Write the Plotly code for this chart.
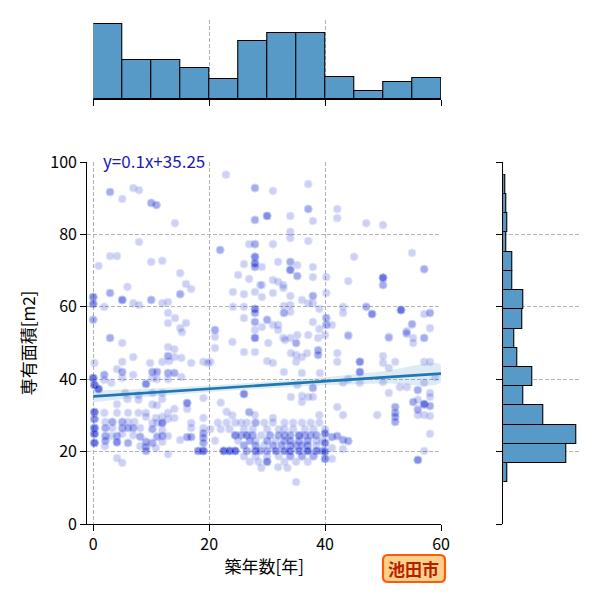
import numpy as np
import plotly.graph_objects as go

# ---------------- data ----------------
# scatter points: age [years], area [m2], number of overlapping listings
pt_age = [
 22.9,2.9,6.9,7.9,5,10,10.9,14.1,7.9,2.9,4.1,0.9,10,11.9,15,16,16.9,15,5.9,2.9,0,0,0,1.9,5,6.9,7.9,10,11.9,12.9,12.9,12.9,14.1,16,15,2.9,21,21,21.9,
 27.9,27.9,26.9,27.9,27.9,27.9,27.9,26,25,26.9,28.8,24.1,26,27.9,27.9,27.9,27.9,26,24.1,26,27.9,
 31,37.1,30,34,37.1,37.9,42.1,42.1,47.1,50,34,34,37.1,31,29.1,31.9,34,34,35.2,35.2,37.9,37.9,40.2,31,31.9,29.1,32.8,32.8,31,29.1,34,37.9,37.9,40.2,36,37.1,
 32.9,32.9,34,34,39,40.2,40.2,41.2,37.9,39,30,31,31.9,31.9,29.1,35.2,37.1,34,32.8,40,44,45,55,57.1,50,50,44,47.1,48.1,43.1,43.1,53.1,55,57.1,58.1,58.1,54.1,54.1,51,57.1,
 5,15.3,12.9,14,12.9,14,15.2,6.9,0.2,5,9.8,11.9,13.1,16.9,19,20.2,4.1,5,5,1.9,1.9,0,3.1,6.9,10.2,11,10.2,11,12.9,14,12.9,15.2,9.1,0.2,0.9,5.5,7.8,10.2,11.9,7.8,11.9,19,4.1,5.9,16.2,10.2,11,14,16.2,12.9,14,9.1,
 0.2,0.2,0.2,0.2,0.2,1.9,4.1,6,7.8,2.1,3.3,5,6,7.1,2.1,3.3,5,6,2.1,3.1,4.1,5,2.1,4.1,6,6.9,8.1,6.9,8.1,9.1,10.2,11,10.2,11.9,10.8,11.9,12.9,11.9,11,11.9,12.9,10.2,11.9,9.1,9.1,9.1,8.1,10.8,15,16.2,16.9,16.9,19,16.9,19,19,19,19,19,18.1,20.2,4.1,5,12.9,2,
 21,27.9,24,26,27.9,30.2,33.1,35,38.8,38.8,38.8,35,35,36,34.1,36.9,30,31,32.9,36,39.1,19.8,26,35.2,37.9,34.1,36,37.1,37.9,36,39,26.9,27.9,31,23,24,22,
 21.5,23,24.5,25.5,26.5,28,29.5,31,33,34.5,36,37.5,39,
 22,23.5,26,27.5,30,32,33,34.5,36.5,38,40,
 24.5,25.5,26.5,27.5,29,30.5,32,33,34,35.5,36.5,37.5,38.5,
 21,25,27,28,30,31.5,33,34,35.5,37,38.5,39.5,
 26,28,29.5,31,32.5,34,35,36,37,38.5,
 22.5,23.5,24.5,26.5,28,28.8,30,31.5,33,34,35.5,37,38.5,39.5,
 26,28,30,32,34,36,38,
 27,28.5,30,33,35,37,
 29,31.9,33.5,35,
 44,51,54,55.2,55.2,57.1,42.1,42.1,46,46,46,50,50,51,52.1,57.1,58.1,59,43.1,44,50,52.9,54.1,57.1,56,58.1,58.1,51,55.2,56,57.1,58.1,56,56,57.1,58.1,
 52.1,52.1,52.1,52.1,49,42.1,43.1,58.1,57.1,56,40,40,40,40,41.2,42.1,43.1,44,41.2,41.2,43.1,
]
pt_area = [
 96.5,91.7,92.8,92.2,89.8,88.7,88.1,83.1,77.9,74,74,71.3,72.4,72.7,69.3,66.3,64.9,63.5,65.5,63.8,62.7,60.8,56.4,60,61.9,61,60.5,61.9,61,61.3,58.3,55.5,56.9,55.5,54.1,51.4,53.6,51.7,75.7,
 92.8,84,77.3,77.3,73.8,72,71,71.8,68.8,67.7,66,64.1,63.5,64.1,59.4,58.3,55.8,60,60,56.9,53.6,
 92,93.9,85.1,85.1,87,83.7,87,84.5,83.1,82.6,80.7,79,78.2,77.3,71,72.4,72.4,70.2,71.5,68.5,71,68.2,68.2,67.4,66.9,66,66,65.2,63.8,62.7,63,63,61,63.8,61.9,61,
 60.2,58.3,60.5,58.6,59.4,56.9,55,55,55.8,53.9,56.4,55,55,53.6,54.4,52.2,52.2,51.4,51.4,52.2,52.2,73.8,74.9,70.4,68,66,67.1,60,58,60,58.3,59.1,55.2,58,58.3,54.1,53.3,52.5,51.7,51.4,
 50,53,48.9,48.3,46.4,46.1,45.9,46.1,44.5,44.8,44.5,44.8,45,44.5,44.8,44.8,42.8,42,40.3,41.2,39.8,40.3,39,41.2,42,42,40.3,40,41.7,41.7,40,40.6,38.7,38.4,37.3,36.2,35.6,36.2,36.2,34.3,34.5,34.8,33.1,34.5,33.4,33,32.8,31.8,31.8,30.7,29.3,30.7,
 30.9,29,26.5,24.9,22.4,30.7,30.7,30.7,30.7,28.2,28.2,28.2,28.2,28.2,26.5,26.5,26.5,26.5,24.3,24.3,24.3,24.9,23,22.6,22.4,26.5,26.5,24.5,24.1,29.6,27.9,27.9,26.2,25.9,29.3,29.6,29,27.9,24.1,24.3,24.3,22.4,22.7,22.7,21.3,20.2,21.5,21,23.2,24,24,26.5,26.5,27.9,29.3,25.1,23.8,22.4,20.2,20.2,26.2,18.2,16.9,19.3,21.5,
 48.6,51.4,50.3,47.5,47.5,50,50.8,50,51.4,48,46.7,46.7,44.8,46.1,47.2,47.2,45,44.5,42,41.7,41.7,44.5,35.9,38.4,37.6,35.1,35.4,35.1,35.1,33.7,30.1,30.9,30.1,29.3,31,30,33.5,
 28,28,28,28,28,28,28,28,28,28,28,28,28,
 26.2,26.2,26.2,26.2,26.2,26.2,26.2,26.2,26.2,26.2,26.2,
 24.5,24.5,24.5,24.5,24.5,24.5,24.5,24.5,24.5,24.5,24.5,24.5,24.5,
 23,23,23,23,23,23,23,23,23,23,23,23,
 21.7,21.7,21.7,21.7,21.7,21.7,21.7,21.7,21.7,21.7,
 20.2,20.2,20.2,20.2,20.2,20.2,20.2,20.2,20.2,20.2,20.2,20.2,20.2,20.2,
 18.7,18.7,18.7,18.7,18.7,18.7,18.7,
 17.2,17.2,17.2,17.2,17.2,17.2,
 15.5,15.7,15.5,11.6,
 51.9,51.4,52.8,51.4,50,51.4,47.2,44.8,44.8,42,39,46.4,44.5,43.1,44.8,44.8,44.8,40.6,39,40,39.2,37.8,37.8,39,37,36.2,35.1,36.2,33.7,34.3,33.1,32.6,31.6,30.1,30.1,29.8,
 32.3,30.7,29.6,28.2,30.1,32.3,30.1,24.9,20.2,17.7,25,22.4,20,18,24,24.3,23.2,22.9,21,18,20.7,
]
pt_count = [
 1,2,1,1,1,2,2,1,1,1,1,1,1,1,1,1,1,2,1,2,3,3,2,1,3,1,1,2,1,1,1,1,1,1,1,2,2,1,2,
 2,2,1,2,3,3,2,1,1,1,1,1,1,1,3,2,2,1,1,1,1,
 1,1,3,1,2,1,1,1,1,1,1,1,1,1,1,1,2,3,1,2,1,1,1,1,1,1,1,1,1,1,1,2,1,1,1,1,
 1,2,1,1,1,2,2,1,1,1,2,1,1,1,1,1,1,1,1,1,1,1,1,2,4,2,1,2,3,1,1,4,2,1,2,1,1,1,1,1,
 1,1,1,1,2,1,1,1,1,1,1,1,1,1,1,1,1,2,1,2,1,4,1,1,2,2,1,1,2,2,1,1,3,4,4,1,1,1,1,1,1,1,1,1,3,1,1,1,1,1,1,1,
 4,3,4,4,4,1,1,1,1,1,2,2,1,1,2,1,2,2,2,1,2,1,2,3,2,2,1,1,2,1,1,1,2,1,1,1,1,3,2,2,1,2,1,2,2,2,1,1,1,2,2,1,1,1,1,2,2,2,4,3,1,1,1,1,1,
 1,3,1,1,1,1,1,2,1,2,2,1,1,1,1,1,1,1,1,1,1,1,3,1,2,1,1,1,1,1,1,2,1,1,1,1,1,
 1,1,1,1,1,2,1,1,1,1,1,1,1,
 1,1,1,1,1,1,1,1,1,1,1,
 3,2,3,2,1,2,2,2,2,3,2,2,2,
 1,1,2,1,2,1,2,2,2,2,1,1,
 2,2,1,2,2,2,2,2,2,1,
 4,4,4,2,3,2,2,3,3,3,3,4,3,2,
 1,1,1,1,2,2,2,
 1,1,3,1,1,1,
 1,1,1,1,
 1,1,1,1,1,1,1,1,3,3,1,1,1,1,1,1,1,1,1,1,1,1,1,1,2,1,1,1,2,1,4,2,2,1,1,1,
 2,2,2,2,1,1,1,1,1,3,3,3,3,3,2,2,2,2,1,1,1,
]

# marginal histograms (counts)
age_bin_start, age_bin_width = 0.0, 5.0
age_counts = [65, 34, 34, 27, 17, 50, 57, 57, 19, 7, 15, 18]
area_bin_start, area_bin_width = 11.5, 5.31
area_counts = [5, 78, 90, 49, 25, 36, 17, 13, 23, 25, 11, 11, 4, 5, 4, 3]

# regression line and its confidence band half-width
reg_slope, reg_intercept = 0.105, 35.25
band_x = [0, 10, 20, 30, 40, 50, 60]
band_half = [1.6, 1.1, 0.9, 0.9, 1.1, 1.7, 2.4]
reg_label = "y=0.1x+35.25"

x_ticks = [0, 20, 40, 60]
y_ticks = [0, 20, 40, 60, 80, 100]
x_title = "築年数[年]"
y_title = "専有面積[m2]"
city = "池田市"

# ---------------- figure ----------------
n = min(len(pt_age), len(pt_area), len(pt_count))
xs = np.repeat(np.array(pt_age[:n]), pt_count[:n])
ys = np.repeat(np.array(pt_area[:n]), pt_count[:n])

FONT = "Noto Sans CJK JP"
GRID = "#b4b4b4"
BAR = "rgb(87,153,199)"

# the page body adds an 8px offset; map screen pixels to paper fractions
OFF, S = 8.0, 592.0
def fx(p):
    return (p - OFF) / S
def fy(p):
    return 1 - (p - OFF) / S

fig = go.Figure()

# scatter
fig.add_trace(go.Scatter(
    x=xs, y=ys, mode="markers", xaxis="x", yaxis="y",
    marker=dict(size=8, color="rgb(0,0,205)", opacity=0.18,
                line=dict(color="rgb(90,150,230)", width=1)),
    showlegend=False, hoverinfo="skip"))

# regression band + line
bx = np.array(band_x, dtype=float)
by = reg_intercept + reg_slope * bx
bh = np.array(band_half)
fig.add_trace(go.Scatter(
    x=np.concatenate([bx, bx[::-1]]),
    y=np.concatenate([by + bh, (by - bh)[::-1]]),
    fill="toself", fillcolor="rgba(31,119,180,0.15)", line=dict(width=0),
    mode="lines", xaxis="x", yaxis="y", showlegend=False, hoverinfo="skip",
    line_shape="spline"))
fig.add_trace(go.Scatter(
    x=bx, y=by, mode="lines", line=dict(color="#1f77b4", width=2.6),
    xaxis="x", yaxis="y", showlegend=False))

# top histogram
age_centers = [age_bin_start + age_bin_width * (i + 0.5) for i in range(len(age_counts))]
fig.add_trace(go.Bar(
    x=age_centers, y=age_counts, width=age_bin_width, xaxis="x2", yaxis="y2",
    marker=dict(color=BAR, line=dict(color="black", width=1.1)),
    showlegend=False))

# right histogram
area_centers = [area_bin_start + area_bin_width * (i + 0.5) for i in range(len(area_counts))]
fig.add_trace(go.Bar(
    y=area_centers, x=area_counts, width=area_bin_width, orientation="h",
    xaxis="x3", yaxis="y3",
    marker=dict(color=BAR, line=dict(color="black", width=1.1)),
    showlegend=False))

common_grid = dict(showgrid=True, gridcolor=GRID, griddash="4px,2px", gridwidth=1,
                   zeroline=False, automargin=False)
ax_line = dict(showline=True, linecolor="black", linewidth=1.3,
               ticks="outside", ticklen=6, tickwidth=1.3, tickcolor="black")

fig.update_layout(
    width=int(S), height=int(S),
    margin=dict(l=0, r=0, t=0, b=0),
    paper_bgcolor="white", plot_bgcolor="white",
    font=dict(family=FONT, size=16, color="black"),
    bargap=0,
    xaxis=dict(domain=[fx(87.3), fx(441)], range=[-1.03, 60], tickvals=x_ticks,
               title=dict(text=x_title, font=dict(size=17, color="black"), standoff=6),
               **common_grid, **ax_line),
    yaxis=dict(domain=[fy(524), fy(162)], range=[0, 100], tickvals=y_ticks,
               title=dict(text=y_title, font=dict(size=17, color="black"), standoff=10),
               **common_grid, **ax_line),
    xaxis2=dict(domain=[fx(93.3), fx(441)], range=[0, 60], tickvals=x_ticks,
                showticklabels=False, anchor="y2", **common_grid, **ax_line),
    yaxis2=dict(domain=[fy(99), fy(20)], range=[0, max(age_counts) * 1.05],
                showticklabels=False, showgrid=False, showline=False, zeroline=False,
                anchor="x2", automargin=False),
    xaxis3=dict(domain=[fx(503.3), fx(580)], range=[0, max(area_counts) * 1.05],
                showticklabels=False, showgrid=False, showline=False, zeroline=False,
                anchor="y3", automargin=False),
    yaxis3=dict(domain=[fy(524), fy(162)], range=[0, 100], tickvals=y_ticks,
                showticklabels=False, anchor="x3", **common_grid, **ax_line),
)

# regression label
fig.add_annotation(x=1.4, y=100, xref="x", yref="y", text=reg_label,
                   showarrow=False, xanchor="left", yanchor="middle", yshift=1,
                   font=dict(family=FONT, size=17, color="rgb(25,25,185)"))

# city badge (rounded rectangle + text)
x0, x1, y0, y1 = fx(383), fx(445), fy(582), fy(555)
rx, ry = 5 / S, 5 / S
path = (f"M {x0+rx},{y0} L {x1-rx},{y0} Q {x1},{y0} {x1},{y0+ry} L {x1},{y1-ry} "
        f"Q {x1},{y1} {x1-rx},{y1} L {x0+rx},{y1} Q {x0},{y1} {x0},{y1-ry} "
        f"L {x0},{y0+ry} Q {x0},{y0} {x0+rx},{y0} Z")
fig.add_shape(type="path", path=path, xref="paper", yref="paper",
              fillcolor="#FFD08C", line=dict(color="#FF5A0A", width=2.2), layer="above")
fig.add_annotation(x=(x0 + x1) / 2, y=(y0 + y1) / 2, xref="paper", yref="paper",
                   text=f"<b>{city}</b>", showarrow=False,
                   xanchor="center", yanchor="middle",
                   font=dict(family=FONT, size=17, color="#B81E00"))

fig.write_html("out.html")
